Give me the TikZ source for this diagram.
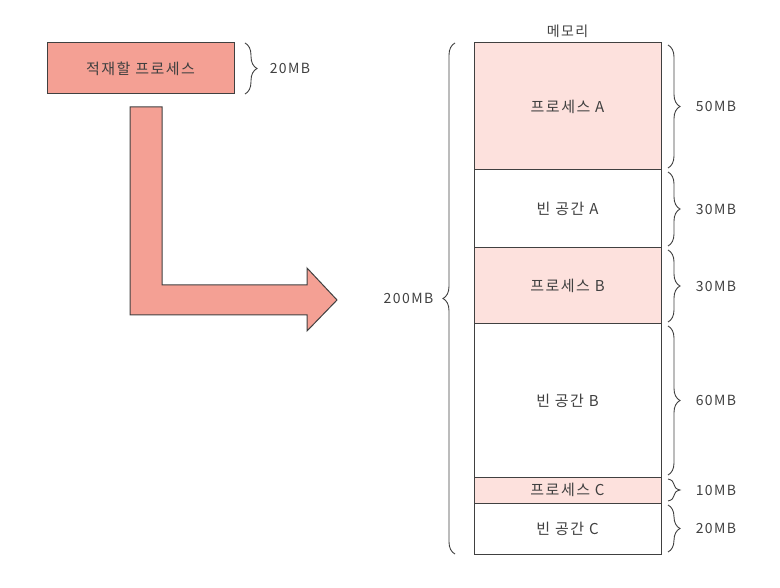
\documentclass[tikz,border=0pt]{standalone}
\usepackage{fontspec}
\setmainfont{Noto Sans CJK KR}[LetterSpace=10]
\usetikzlibrary{positioning,decorations.pathreplacing}

\definecolor{procfill}{HTML}{FDE1DD}
\definecolor{loadfill}{HTML}{F4A094}
\definecolor{ink}{HTML}{404040}

\tikzset{
  block/.style={draw=ink, line width=1pt, minimum width=187pt, inner sep=0pt,
    outer sep=0pt, text=ink, font=\fontsize{15}{17}\selectfont},
  proc/.style={block, fill=procfill},
  hole/.style={block, fill=white},
  sizebrace/.style={decorate, decoration={brace, amplitude=12pt}, draw=ink, line width=0.9pt},
  mb/.style={text=ink, font=\fontsize{14}{16}\selectfont}
}

\begin{document}
\begin{tikzpicture}[x=1pt, y=-1pt]
\useasboundingbox (0,0) rectangle (780,588);

% process waiting to be loaded
\node[block, fill=loadfill, minimum height=51pt, anchor=north west] (load) at (47,43) {적재할 프로세스};
\draw[sizebrace] ([xshift=11pt]load.north east) -- node[mb, right=21pt] (loadmb) {20MB} ([xshift=11pt]load.south east);

% bent arrow
\draw[ink, line width=1pt, fill=loadfill] (130,107) -- (162,107) -- (162,285) -- (307,285)
  -- (307,268) -- (337,300) -- (307,331) -- (307,315) -- (130,315) -- cycle;

% memory
\node[proc, anchor=north west, minimum height=127pt] (pa) at (474,43) {프로세스 A};
\node[hole, below=0pt of pa, minimum height=78pt] (ha) {빈 공간 A};
\node[proc, below=0pt of ha, minimum height=76pt] (pb) {프로세스 B};
\node[hole, below=0pt of pb, minimum height=153pt] (hb) {빈 공간 B};
\node[proc, below=0pt of hb, minimum height=26pt] (pc) {프로세스 C};
\node[hole, below=0pt of pc, minimum height=51pt] (hc) {빈 공간 C};
\node[mb, above=2pt of pa] (mem) {메모리};

% sizes
\foreach \blk/\size in {pa/50MB, ha/30MB, pb/30MB, hb/60MB, pc/10MB, hc/20MB}
  \draw[sizebrace] ([xshift=7pt,yshift=-2pt]\blk.north east) -- node[mb, right=24pt] {\size} ([xshift=7pt,yshift=2pt]\blk.south east);
\draw[sizebrace] ([xshift=-19pt]hc.south west) -- node[mb, left=18pt] (total) {200MB} ([xshift=-19pt]pa.north west);
\end{tikzpicture}
\end{document}
